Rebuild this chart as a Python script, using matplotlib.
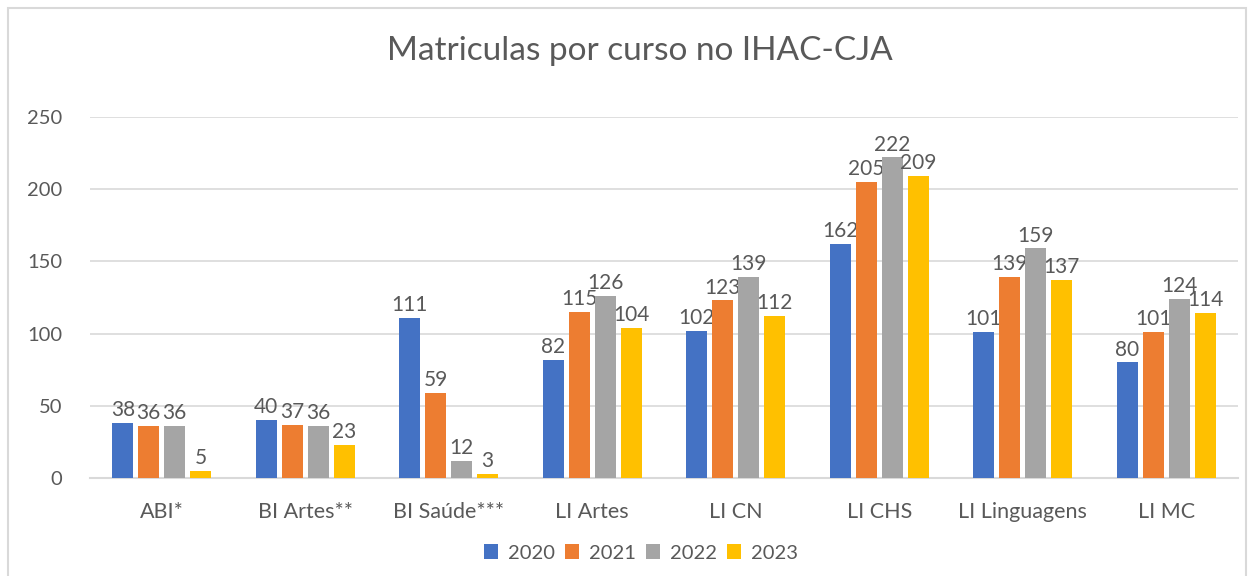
import numpy as np
import matplotlib.pyplot as plt
from matplotlib.patches import Rectangle

plt.rcParams['font.family'] = ['Lato', 'DejaVu Sans']

# --- dados ---
cursos = ["ABI*", "BI Artes**", "BI Saúde***", "LI Artes", "LI CN",
          "LI CHS", "LI Linguagens", "LI MC"]
anos = ["2020", "2021", "2022", "2023"]
v2020 = [38, 40, 111, 82, 102, 162, 101, 80]
v2021 = [36, 37, 59, 115, 123, 205, 139, 101]
v2022 = [36, 36, 12, 126, 139, 222, 159, 124]
v2023 = [5, 23, 3, 104, 112, 209, 137, 114]
series = [v2020, v2021, v2022, v2023]
cores = ["#4472C4", "#ED7D31", "#A5A5A5", "#FFC000"]
cinza = "#595959"

fig = plt.figure(figsize=(12.53, 5.76), dpi=100)
ax = fig.add_axes([90 / 1253, 98 / 576, 1148 / 1253, 361 / 576])

x = np.arange(len(cursos))
larg = 0.146
passo = 0.181
for i, (vals, cor, ano) in enumerate(zip(series, cores, anos)):
    pos = x + (i - 1.5) * passo
    bars = ax.bar(pos, vals, width=larg, color=cor, label=ano, zorder=3)
    for b, v in zip(bars, vals):
        ax.text(b.get_x() + b.get_width() / 2, v + 2, str(v), ha="center",
                va="bottom", fontsize=15, color=cinza)

ax.set_xlim(-0.5, len(cursos) - 0.5)
ax.set_ylim(0, 250)
ax.set_yticks(range(0, 251, 50))
ax.set_xticks(x)
ax.set_xticklabels(cursos)
ax.tick_params(axis="both", length=0, labelsize=14.5, colors=cinza)
ax.tick_params(axis="x", labelsize=15.5, pad=17)
ax.tick_params(axis="y", pad=20)
ax.grid(axis="y", color="#D9D9D9", linewidth=1.2, zorder=0)
for s in ["top", "right", "left"]:
    ax.spines[s].set_visible(False)
ax.spines["bottom"].set_color("#D9D9D9")
ax.spines["bottom"].set_linewidth(1.5)

fig.suptitle("Matriculas por curso no IHAC-CJA", x=640 / 1253, y=0.937,
             fontsize=24, color=cinza)

fig.legend(loc="center", bbox_to_anchor=(641 / 1253, 1 - 553 / 576), ncol=4,
           frameon=False, fontsize=14.5, labelcolor=cinza, handlelength=0.7,
           handleheight=0.7, handletextpad=0.5, columnspacing=0.5)

# moldura externa
fig.patches.append(Rectangle((8 / 1253, -0.1), 1238 / 1253, 1.1 - 8 / 576,
                             transform=fig.transFigure, fill=False,
                             edgecolor="#D9D9D9", linewidth=1.5))

fig.savefig("out.png", dpi=100)
